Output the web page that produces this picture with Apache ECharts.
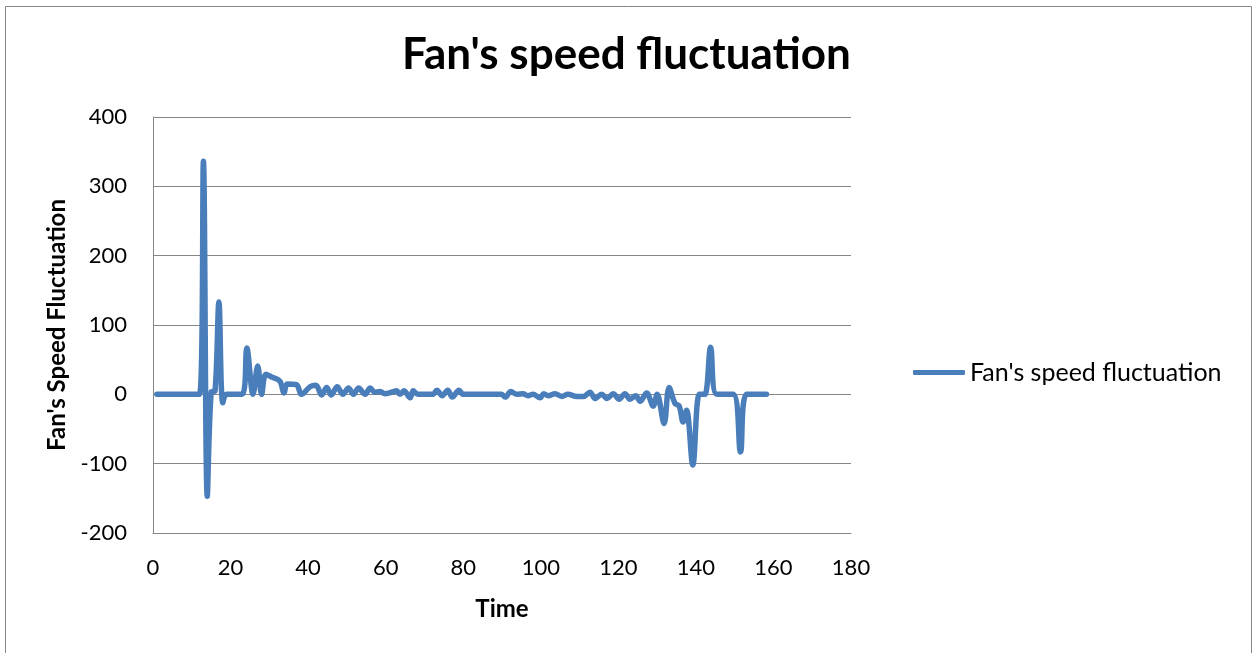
<!DOCTYPE html>
<html>
<head>
<meta charset="utf-8">
<script src="https://cdn.jsdelivr.net/npm/echarts@6/dist/echarts.min.js"></script>
<style>
  html, body { margin: 0; padding: 0; background: #ffffff; }
  #chart { width: 1253px; height: 653px; }
</style>
</head>
<body>
<div id="chart"></div>
<script>
// Time stamps and the matching fan speed fluctuation readings
const times = [
  1, 12, 13, 14, 15, 16, 17, 18, 19, 23,
  24.2, 25.8, 27, 28, 29.1, 30.6, 32.7, 33.8, 34.6, 37,
  38.3, 40.5, 42, 43.5, 44.8, 46, 47.5, 49, 50.4, 51.7,
  53, 54.7, 56, 57.2, 58.5, 59.8, 61.5, 62.8, 63.7, 64.7,
  66.3, 67.1, 68.3, 72.2, 73.2, 74.6, 76, 77.2, 78.9, 80,
  89.9, 90.8, 92.3, 93.8, 95.4, 96.7, 98, 99.8, 100.8, 101.9,
  103.7, 105.4, 107, 109.3, 111, 112.7, 114, 115.7, 117.1, 118.7,
  120.2, 121.7, 123, 124.5, 125.6, 127.3, 129, 130, 131.8, 133.1,
  134.6, 135.7, 136.7, 137.6, 139.2, 140.9, 142.3, 143.8, 145.4, 149.6,
  151.5, 153.1, 158.2
];
const speeds = [
  0, 0, 336, -147, 3, 5, 133, -12, 0, 0,
  67, 0, 41, 0, 29, 25, 19, 2, 15, 14,
  0, 11, 13, -1, 10, -1, 11, 0, 9, 0,
  9, 0, 9, 3, 4, 1, 3, 5, 0, 5,
  -5, 5, 0, 0, 6, -2, 6, -4, 6, 0,
  0, -4, 4, 0, 1, -2, 0, -5, 1, -2,
  1, -3, 0, -3, -3, 3, -6, 0, -6, 1,
  -7, 1, -7, -2, -10, 2, -17, 0, -42, 10,
  -13, -17, -40, -23, -102, 0, 0, 68, 0, 0,
  -83, 0, 0
];
const seriesName = "Fan's speed fluctuation";
const xTicks = { min: 0, max: 180, step: 20 };
const yTicks = { min: -200, max: 400, step: 100 };

const points = times.map((t, i) => [t, speeds[i]]);

const FONT = 'Lato, "Open Sans", "Liberation Sans", sans-serif';
const GRID_COLOR = '#868686';
const LINE_COLOR = '#4a7ebb';

const chart = echarts.init(document.getElementById('chart'), null, { renderer: 'canvas' });

chart.setOption({
  backgroundColor: '#ffffff',
  animation: false,
  title: {
    text: "Fan's speed fluctuation",
    left: 'center',
    top: 28,
    textStyle: { fontFamily: FONT, fontWeight: 'bold', fontSize: 44, color: '#000000' }
  },
  legend: {
    orient: 'vertical',
    left: 913,
    top: 360,
    padding: 0,
    itemWidth: 52,
    itemHeight: 5,
    icon: 'roundRect',
    textStyle: { fontFamily: FONT, fontSize: 25, color: '#000000' },
    data: [seriesName]
  },
  graphic: [{
    type: 'rect',
    shape: { x: 5.5, y: 6.5, width: 1246, height: 700 },
    style: { fill: 'none', stroke: GRID_COLOR, lineWidth: 1 },
    silent: true
  }],
  grid: { left: 153, top: 117, width: 698, height: 416, containLabel: false },
  xAxis: {
    type: 'value',
    min: xTicks.min,
    max: xTicks.max,
    interval: xTicks.step,
    name: 'Time',
    nameLocation: 'middle',
    nameGap: 64,
    nameTextStyle: { fontFamily: FONT, fontWeight: 'bold', fontSize: 24, color: '#000000' },
    axisLine: { show: true, onZero: false, lineStyle: { color: GRID_COLOR, width: 1 } },
    axisTick: { show: false },
    splitLine: { show: false },
    axisLabel: { fontFamily: FONT, fontSize: 22, color: '#000000', margin: 24 }
  },
  yAxis: {
    type: 'value',
    min: yTicks.min,
    max: yTicks.max,
    interval: yTicks.step,
    name: "Fan's Speed Fluctuation",
    nameLocation: 'middle',
    nameRotate: 90,
    nameGap: 84,
    nameTextStyle: { fontFamily: FONT, fontWeight: 'bold', fontSize: 24, color: '#000000' },
    axisLine: { show: true, lineStyle: { color: GRID_COLOR, width: 1 } },
    axisTick: { show: false },
    splitLine: { show: true, lineStyle: { color: GRID_COLOR, width: 1 } },
    axisLabel: { fontFamily: FONT, fontSize: 22, color: '#000000', margin: 26 }
  },
  series: [{
    name: seriesName,
    type: 'line',
    data: points,
    smooth: 0.35,
    showSymbol: false,
    symbol: 'none',
    lineStyle: { color: LINE_COLOR, width: 5.5, cap: 'round', join: 'round' },
    itemStyle: { color: LINE_COLOR }
  }]
});
</script>
</body>
</html>
